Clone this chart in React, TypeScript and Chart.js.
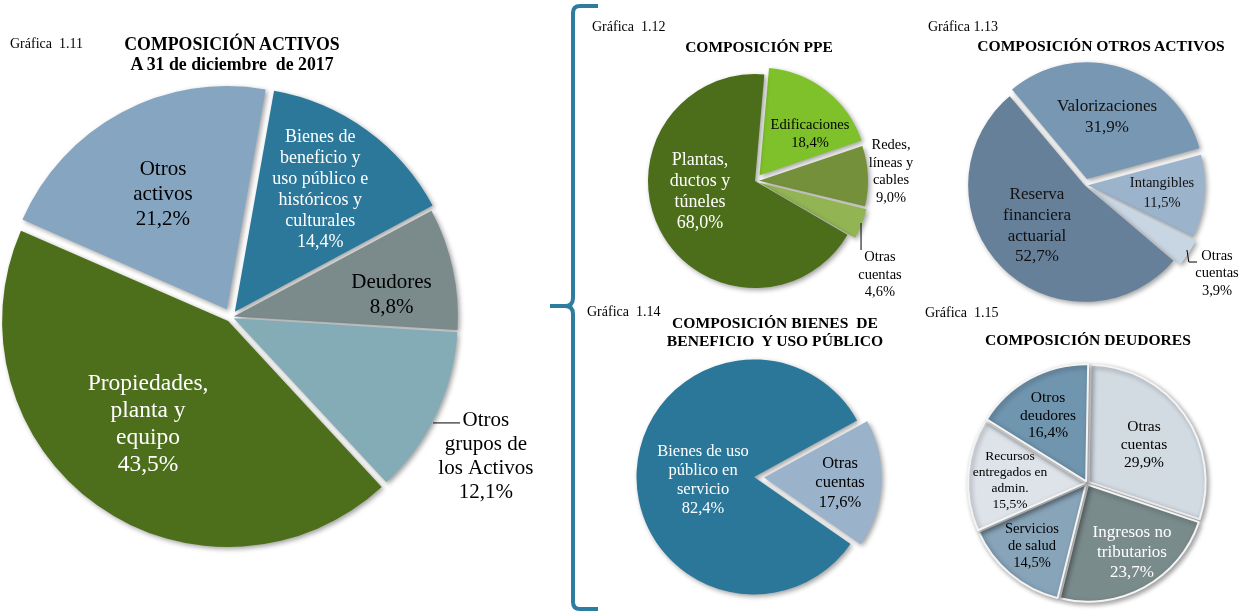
import React, { useEffect, useRef } from "react";
import { Chart, registerables } from "chart.js";
Chart.register(...registerables);

const FONT = '"Liberation Serif", "Times New Roman", serif';

// ---------- Gráfica 1.11 : Composición activos ----------
const activosCategories = [
  "Bienes de\nbeneficio y\nuso público e\nhistóricos y\nculturales",
  "Deudores",
  "Otros\ngrupos de\nlos Activos",
  "Propiedades,\nplanta y\nequipo",
  "Otros\nactivos",
];
const activosValues = [14.4, 8.8, 12.1, 43.5, 21.2];

// ---------- Gráfica 1.12 : Composición PPE ----------
const ppeCategories = ["Edificaciones", "Redes,\nlíneas y\ncables", "Otras\ncuentas", "Plantas,\nductos y\ntúneles"];
const ppeValues = [18.4, 9.0, 4.6, 68.0];

// ---------- Gráfica 1.13 : Composición otros activos ----------
const otrosCategories = ["Valorizaciones", "Intangibles", "Otras\ncuentas", "Reserva\nfinanciera\nactuarial"];
const otrosValues = [31.9, 11.5, 3.9, 52.7];

// ---------- Gráfica 1.14 : Composición bienes de beneficio y uso público ----------
const bienesCategories = ["Bienes de uso\npúblico en\nservicio", "Otras\ncuentas"];
const bienesValues = [82.4, 17.6];

// ---------- Gráfica 1.15 : Composición deudores ----------
const deudoresCategories = [
  "Otras\ncuentas",
  "Ingresos no\ntributarios",
  "Servicios\nde salud",
  "Recursos\nentregados en\nadmin.",
  "Otros\ndeudores",
];
const deudoresValues = [29.9, 23.7, 14.5, 15.5, 16.4];

const pct = (v: number) => v.toFixed(1).replace(".", ",") + "%";

type LabelStyle = { fx: number; fy: number; size: number; color: string; lh: number };
type Spec = {
  cx: number;
  cy: number;
  r: number;
  box: number;
  rotation: number;
  categories: string[];
  values: number[];
  colors: string[];
  shift: number[];
  border: number;
  labels: LabelStyle[];
  leaders: number[][][];
};

const specs: Spec[] = [
  {
    cx: 231, cy: 317, r: 223, box: 640, rotation: 10,
    categories: activosCategories, values: activosValues,
    colors: ["#2B789A", "#7B8B8C", "#83ACB7", "#4D6F1B", "#85A5C1"],
    shift: [8, 4, 4, 8, 9], border: 0,
    labels: [
      { fx: 0.40, fy: -0.57, size: 18, color: "#ffffff", lh: 21 },
      { fx: 0.72, fy: -0.10, size: 21, color: "#000000", lh: 25 },
      { fx: 1.143, fy: 0.624, size: 21, color: "#000000", lh: 24 },
      { fx: -0.372, fy: 0.48, size: 23.5, color: "#ffffff", lh: 27 },
      { fx: -0.305, fy: -0.55, size: 21, color: "#000000", lh: 25 },
    ],
    leaders: [[[0.906, 0.475], [1.027, 0.475]]],
  },
  {
    cx: 755, cy: 181, r: 107, box: 360, rotation: 5,
    categories: ppeCategories, values: ppeValues,
    colors: ["#7FC12A", "#74903A", "#92B452", "#4C6E1B"],
    shift: [8, 6, 8, 0], border: 0,
    labels: [
      { fx: 0.514, fy: -0.439, size: 14.5, color: "#000000", lh: 18 },
      { fx: 1.271, fy: -0.086, size: 14.5, color: "#000000", lh: 17.7 },
      { fx: 1.168, fy: 0.88, size: 14.5, color: "#000000", lh: 17.5 },
      { fx: -0.514, fy: 0.103, size: 18, color: "#ffffff", lh: 21 },
    ],
    leaders: [[[0.991, 0.393], [0.991, 0.645]]],
  },
  {
    cx: 1085, cy: 185, r: 116, box: 340, rotation: -40,
    categories: otrosCategories, values: otrosValues,
    colors: ["#7797B3", "#9CB3CC", "#C8D5E3", "#66809A"],
    shift: [7, 4, 8, 1], border: 0,
    labels: [
      { fx: 0.19, fy: -0.582, size: 17, color: "#111111", lh: 21 },
      { fx: 0.664, fy: 0.069, size: 14.5, color: "#111111", lh: 20 },
      { fx: 1.138, fy: 0.763, size: 14.5, color: "#000000", lh: 17.5 },
      { fx: -0.414, fy: 0.353, size: 17, color: "#111111", lh: 20.7 },
    ],
    leaders: [[[0.879, 0.56], [0.895, 0.664], [0.966, 0.664]]],
  },
  {
    cx: 755, cy: 477, r: 116.5, box: 280, rotation: 124.7,
    categories: bienesCategories, values: bienesValues,
    colors: ["#2A7799", "#9BB2CB"],
    shift: [2, 10], border: 0,
    labels: [
      { fx: -0.446, fy: 0.03, size: 16.5, color: "#ffffff", lh: 19 },
      { fx: 0.73, fy: 0.049, size: 16.5, color: "#000000", lh: 19.5 },
    ],
    leaders: [],
  },
  {
    cx: 1087, cy: 483, r: 117, box: 280, rotation: 1,
    categories: deudoresCategories, values: deudoresValues,
    colors: ["#D2DAE2", "#7A8B8C", "#88A4B9", "#DEE3EA", "#7095AF"],
    shift: [2, 2, 2, 2, 2], border: 2,
    labels: [
      { fx: 0.487, fy: -0.325, size: 15.5, color: "#000000", lh: 18 },
      { fx: 0.385, fy: 0.596, size: 17, color: "#ffffff", lh: 20 },
      { fx: -0.47, fy: 0.538, size: 14.5, color: "#000000", lh: 17 },
      { fx: -0.658, fy: -0.019, size: 13.5, color: "#000000", lh: 16 },
      { fx: -0.333, fy: -0.575, size: 15.5, color: "#000000", lh: 17.5 },
    ],
    leaders: [],
  },
];

function offsetsFor(values: number[], shift: number[]) {
  const total = values.reduce((a, b) => a + b, 0);
  return values.map((v, i) => {
    const circ = (v / total) * Math.PI * 2;
    const fix = 1 - Math.sin(Math.min(Math.PI, circ));
    return (4 * shift[i]) / (1 + fix);
  });
}

function Pie({ spec }: { spec: Spec }) {
  const ref = useRef<HTMLCanvasElement>(null);
  useEffect(() => {
    const shadowPlugin = {
      id: "shadow",
      beforeDatasetsDraw(chart: any) {
        const c = chart.ctx;
        c.save();
        c.shadowColor = "rgba(0,0,0,0.38)";
        c.shadowBlur = 5;
        c.shadowOffsetX = 2;
        c.shadowOffsetY = 2;
      },
      afterDatasetsDraw(chart: any) {
        chart.ctx.restore();
      },
    };
    const labelPlugin = {
      id: "sliceLabels",
      afterDraw(chart: any) {
        const c = chart.ctx;
        const arc = chart.getDatasetMeta(0).data[0];
        const x0 = arc.x;
        const y0 = arc.y;
        const R = arc.outerRadius;
        c.save();
        c.textAlign = "center";
        c.textBaseline = "middle";
        spec.labels.forEach((l, i) => {
          const lines = spec.categories[i].split("\n").concat(pct(spec.values[i]));
          c.font = `${l.size}px ${FONT}`;
          c.fillStyle = l.color;
          const lx = x0 + l.fx * R;
          const ly = y0 + l.fy * R - ((lines.length - 1) * l.lh) / 2;
          lines.forEach((t, k) => c.fillText(t, lx, ly + k * l.lh));
        });
        c.strokeStyle = "#000";
        c.lineWidth = 1;
        spec.leaders.forEach((pts) => {
          c.beginPath();
          pts.forEach((p, k) => {
            const px = x0 + p[0] * R;
            const py = y0 + p[1] * R;
            if (k === 0) c.moveTo(px, py);
            else c.lineTo(px, py);
          });
          c.stroke();
        });
        c.restore();
      },
    };
    const chart = new Chart(ref.current!, {
      type: "pie",
      data: {
        labels: spec.categories.map((s) => s.replace(/\n/g, " ")),
        datasets: [
          {
            data: spec.values,
            backgroundColor: spec.colors,
            borderWidth: spec.border,
            borderColor: "#f4f4f4",
            offset: offsetsFor(spec.values, spec.shift),
            hoverOffset: 0,
          },
        ],
      },
      options: {
        animation: false,
        responsive: false,
        devicePixelRatio: 1,
        rotation: spec.rotation,
        radius: spec.r,
        layout: { padding: 0 },
        events: [],
        plugins: { legend: { display: false }, tooltip: { enabled: false }, title: { display: false } },
      } as any,
      plugins: [shadowPlugin, labelPlugin],
    });
    return () => chart.destroy();
  }, []);
  return (
    <canvas
      ref={ref}
      width={spec.box}
      height={spec.box}
      style={{
        position: "absolute",
        left: spec.cx - spec.box / 2,
        top: spec.cy - spec.box / 2,
        width: spec.box,
        height: spec.box,
      }}
    />
  );
}

function Txt({ x, y, text, size, bold, center }: { x: number; y: number; text: string; size: number; bold?: boolean; center?: boolean }) {
  const lh = size * 1.2;
  return (
    <div
      style={{
        position: "absolute",
        left: center ? x - 250 : x,
        width: center ? 500 : undefined,
        top: y - lh / 2,
        lineHeight: `${lh}px`,
        fontSize: size,
        fontFamily: FONT,
        fontWeight: bold ? 700 : 400,
        textAlign: center ? "center" : "left",
        whiteSpace: "pre",
        color: "#000",
      }}
    >
      {text}
    </div>
  );
}

export default function App() {
  return (
    <div
      style={{
        position: "absolute",
        left: 0,
        top: 0,
        width: 1251,
        height: 616,
        overflow: "hidden",
        background: "#ffffff",
      }}
    >
      {specs.map((s, i) => (
        <Pie key={i} spec={s} />
      ))}
      <svg width={1251} height={616} style={{ position: "absolute", left: 0, top: 0 }}>
        <path
          d="M598 6 H580 Q573 6 573 13 V298 Q573 306 565 306 H550 M565 306 Q573 306 573 314 V602 Q573 609 580 609 H598"
          fill="none"
          stroke="#2E7CA0"
          strokeWidth={4}
        />
      </svg>
      <Txt x={10} y={44} text="Gráfica  1.11" size={14} />
      <Txt x={232} y={45} text="COMPOSICIÓN ACTIVOS" size={17.8} bold center />
      <Txt x={232} y={65} text="A 31 de diciembre  de 2017" size={17.8} bold center />
      <Txt x={592} y={27} text="Gráfica  1.12" size={14} />
      <Txt x={759} y={47} text="COMPOSICIÓN PPE" size={15.5} bold center />
      <Txt x={928} y={27} text="Gráfica 1.13" size={14} />
      <Txt x={1101} y={46} text="COMPOSICIÓN OTROS ACTIVOS" size={15.6} bold center />
      <Txt x={587} y={312} text="Gráfica  1.14" size={14} />
      <Txt x={775} y={323} text="COMPOSICIÓN BIENES  DE" size={15.6} bold center />
      <Txt x={775} y={341} text="BENEFICIO  Y USO PÚBLICO" size={15.6} bold center />
      <Txt x={925} y={313} text="Gráfica  1.15" size={14} />
      <Txt x={1088} y={340} text="COMPOSICIÓN DEUDORES" size={15.6} bold center />
    </div>
  );
}
